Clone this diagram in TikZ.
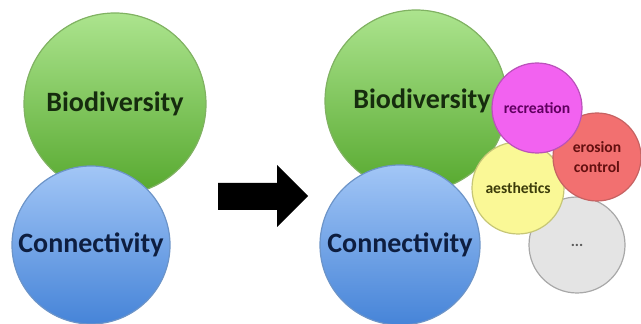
\documentclass[tikz,border=0pt]{standalone}
\usepackage{fontspec}
\setmainfont{Carlito}
\definecolor{greentop}{RGB}{172,228,142}
\definecolor{greenbot}{RGB}{86,168,46}
\definecolor{greenline}{RGB}{128,178,98}
\definecolor{bluetop}{RGB}{162,198,246}
\definecolor{bluebot}{RGB}{70,132,216}
\definecolor{blueline}{RGB}{108,148,200}
\definecolor{pinkfill}{RGB}{242,98,240}
\definecolor{pinkline}{RGB}{186,82,186}
\definecolor{redfill}{RGB}{242,112,112}
\definecolor{redline}{RGB}{198,98,98}
\definecolor{yellowfill}{RGB}{250,248,150}
\definecolor{yellowline}{RGB}{198,198,118}
\definecolor{grayfill}{RGB}{228,228,228}
\definecolor{grayline}{RGB}{168,168,168}
\tikzset{
  bubble/.style={circle,inner sep=0pt,align=center,line width=0.6pt,font=\bfseries},
  bigtext/.style={font=\bfseries\fontsize{14}{16}\selectfont},
  smalltext/.style={font=\bfseries\fontsize{7.8}{10}\selectfont},
  biodiv/.style={bubble,bigtext,minimum size=91pt,draw=greenline,
    top color=greentop,bottom color=greenbot,text={rgb,255:red,22;green,44;blue,14}},
  connect/.style={bubble,bigtext,draw=blueline,
    top color=bluetop,bottom color=bluebot,text={rgb,255:red,14;green,30;blue,64}}
}
\begin{document}
\begin{tikzpicture}[x=0.5pt,y=-0.5pt]
\useasboundingbox (0,0) rectangle (641,324);
% before
\node[biodiv] (bio1) at (115,104) {\raisebox{-2pt}{Biodiversity}};
\node[connect,minimum size=79pt] (con1) at (91,245) {\raisebox{-3pt}{Connectivity}};
% block arrow
\fill (218,183) -- (277,183) -- (277,165) -- (308,196) -- (277,227)
  -- (277,210) -- (218,210) -- cycle;
% after
\node[biodiv] (bio2) at (416,101) {\raisebox{-1pt}{\hspace{6pt}Biodiversity}};
\node[connect,minimum size=80pt] (con2) at (400,245) {\raisebox{-1pt}{Connectivity}};
\node[bubble,smalltext,minimum size=48pt,draw=grayline,fill=grayfill,
  text={rgb,255:red,90;green,90;blue,90}] (more) at (577,245) {...};
\node[bubble,smalltext,minimum size=46pt,draw=yellowline,fill=yellowfill,
  text={rgb,255:red,60;green,60;blue,10}] (aes) at (518,188) {aesthetics};
\node[bubble,smalltext,minimum size=44pt,draw=redline,fill=redfill,
  text={rgb,255:red,100;green,16;blue,16}] (eros) at (597,157) {erosion\\control};
\node[bubble,smalltext,minimum size=45pt,draw=pinkline,fill=pinkfill,
  text={rgb,255:red,96;green,0;blue,96}] (recr) at (537,108) {recreation};
\end{tikzpicture}
\end{document}
